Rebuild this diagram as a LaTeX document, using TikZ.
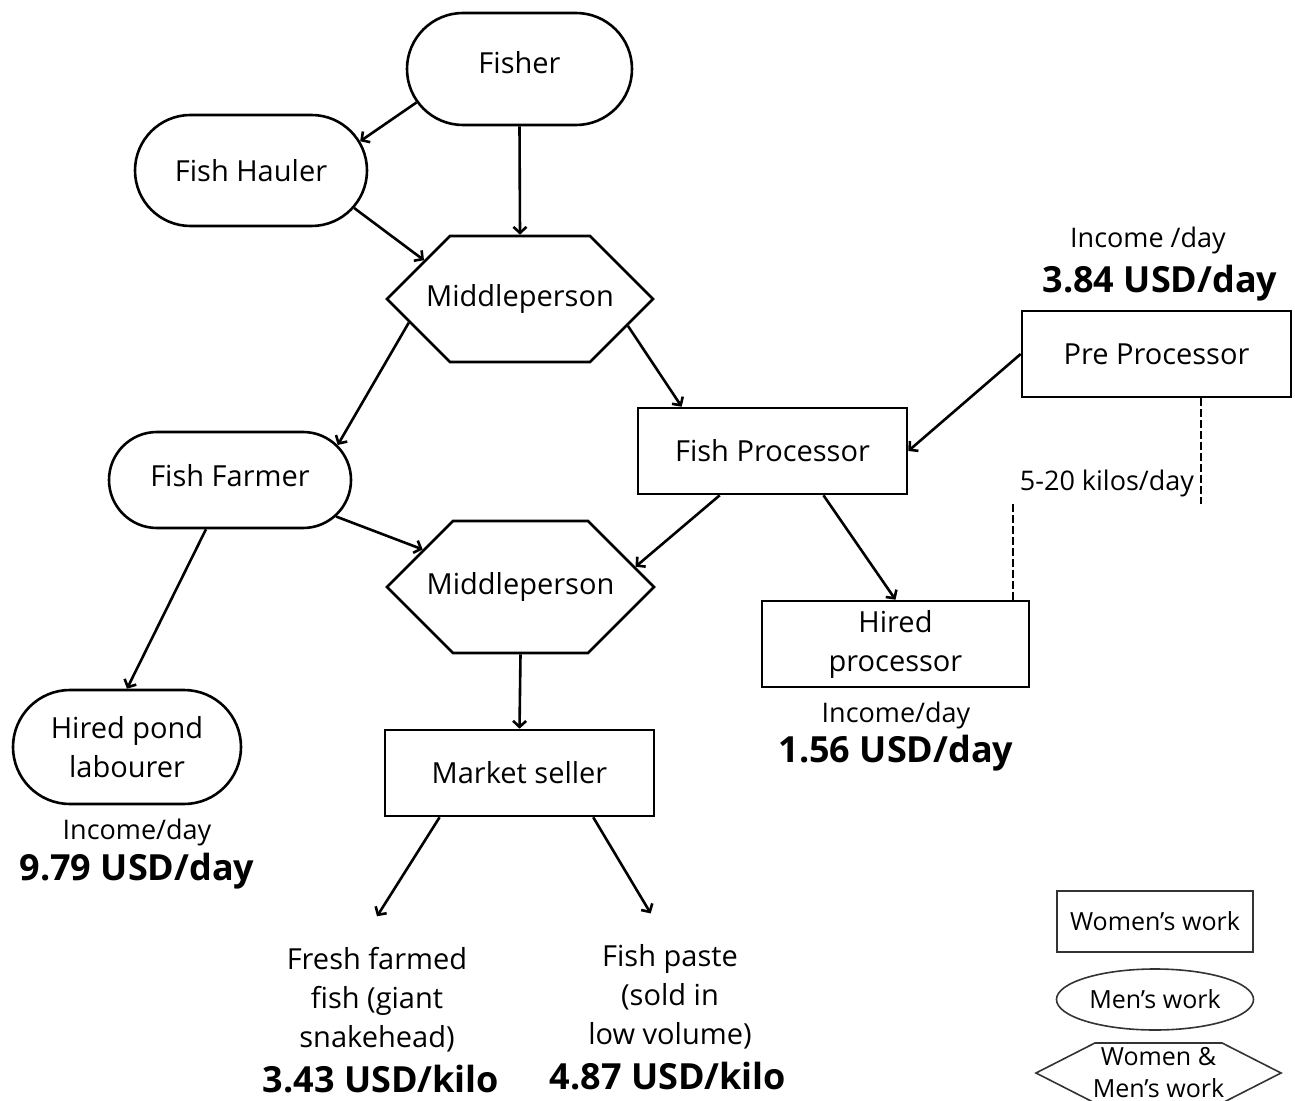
\documentclass[tikz,border=0pt]{standalone}
\usepackage{fontspec}
\setmainfont{Open Sans}
\usetikzlibrary{shapes.misc,shapes.symbols,shapes.geometric,arrows.meta,positioning}

\begin{document}
\begin{tikzpicture}[x=0.5pt,y=-0.5pt,>={Straight Barb[length=3pt,width=6.5pt]},line width=1.3pt,
    main font/.style={font=\fontsize{14.5pt}{19.5pt}\selectfont},
    men node/.style={main font,rounded rectangle,draw,align=center,inner sep=0pt},
    women node/.style={main font,rectangle,draw,align=center,inner sep=0pt},
    both node/.style={main font,signal,signal to=west and east,signal pointer angle=90,draw,inner sep=0pt},
    text node/.style={main font,align=center,inner xsep=2pt,inner ysep=15pt},
    income node/.style={font=\fontsize{13.5pt}{17pt}\selectfont,inner sep=3pt},
    amount node/.style={font=\bfseries\fontsize{18pt}{22pt}\selectfont,inner sep=2pt},
    key node/.style={font=\fontsize{12.5pt}{16pt}\selectfont,draw=black!80,line width=0.8pt,align=center,inner sep=0pt},
    dash line/.style={dash pattern=on 4pt off 1.5pt,line width=1pt}]

    \useasboundingbox (0,0) rectangle (1295,1101);

    % value chain
    \node[men node,minimum width=112.5pt,minimum height=56pt,text depth=7pt] (fisher) at (519.5,69) {Fisher};
    \node[men node,minimum width=116pt,minimum height=55.5pt] (hauler) at (251,170.5) {Fish Hauler};
    \node[both node,minimum width=133pt,minimum height=63pt] (mp1) at (520,299) {\makebox[0pt]{Middleperson}};
    \node[men node,minimum width=121pt,minimum height=48pt,text depth=5pt] (farmer) at (230,480) {Fish Farmer};
    \node[women node,minimum width=134.5pt,minimum height=43pt] (fishproc) at (772.5,451) {Fish Processor};
    \node[women node,minimum width=134.5pt,minimum height=43pt] (preproc) at (1156.5,354) {Pre Processor};
    \node[both node,minimum width=133.5pt,minimum height=66pt] (mp2) at (520.5,587) {\makebox[0pt]{Middleperson}};
    \node[women node,minimum width=133.5pt,minimum height=43pt] (hiredproc) at (895.5,644) {Hired\\processor};
    \node[men node,minimum width=114pt,minimum height=57pt] (pond) at (127,747) {Hired pond\\labourer};
    \node[women node,minimum width=134.5pt,minimum height=43pt] (market) at (519.5,773) {Market seller};

    % products
    \node[text node] (fresh) at (377,1000) {Fresh farmed\\fish (giant\\snakehead)};
    \node[text node] (paste) at (670,997) {Fish paste\\(sold in\\low volume)};

    % incomes and prices
    \node[income node] (inc1) at (1148,240) {Income /day};
    \node[amount node] (amt1) at (1160,283) {3.84 USD/day};
    \node[income node] (inc2) at (896,715) {Income/day};
    \node[amount node] (amt2) [below of = inc2, node distance=19pt] {1.56 USD/day};
    \node[income node] (inc3) at (137,832) {Income/day};
    \node[amount node] (amt3) [below of = inc3, node distance=19.5pt] {9.79 USD/day};
    \node[amount node] (amt4) at (381,1079) {3.43 USD/kilo};
    \node[amount node] (amt5) at (668,1076) {4.87 USD/kilo};
    \node[income node] (kilos) at (1107,483) {5-20 kilos/day};

    % legend
    \node[key node,rectangle,minimum width=98pt,minimum height=30.5pt] (key1) at (1155,921.5) {Women’s work};
    \node[key node,ellipse,minimum width=98.5pt,minimum height=30.5pt] (key2) at (1155,999.5) {Men’s work};
    \node[key node,signal,signal to=west and east,signal pointer angle=54,minimum width=122.5pt,minimum height=30pt] (key3) at (1158.5,1073) {};
    \node[font=\fontsize{12.5pt}{16pt}\selectfont,align=center,inner sep=0pt] (key3text) at (key3.center) {Women \&\\Men’s work};

    \path[->]
        (fisher.198) edge (hauler.15)
        (fisher.south) edge (mp1.north)
        (hauler.-20) edge (mp1.158)
        (mp1.192) edge (farmer.18)
        (mp1.-14) edge (fishproc.154)
        (preproc.west) edge (fishproc.east)
        (farmer.-19) edge (mp2.159)
        (fishproc.220) edge (mp2.10)
        (farmer.244) edge (pond.north)
        (fishproc.-41) edge (hiredproc.north)
        (mp2.south) edge (market.north)
        (market.209) edge (fresh.north)
        (market.-31) edge (paste.103)
        ;

    \draw[dash line] (kilos.south east |- preproc.south) -- (kilos.south east);
    \draw[dash line] (kilos.south west) -- (kilos.south west |- hiredproc.north);
\end{tikzpicture}
\end{document}
